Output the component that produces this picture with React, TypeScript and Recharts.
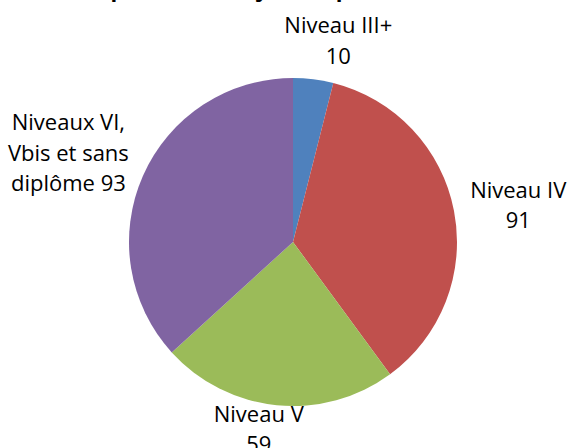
import React from "react";
import { PieChart, Pie, Cell } from "recharts";

const categories = ["Niveau III+", "Niveau IV", "Niveau V", "Niveaux VI, Vbis et sans diplôme"];
const values = [10, 91, 59, 93];
const labelLines = [
  ["Niveau III+", "10"],
  ["Niveau IV", "91"],
  ["Niveau V", "59"],
  ["Niveaux VI,", "Vbis et sans", "diplôme 93"],
];
const colors = ["#4F81BD", "#C0504D", "#9BBB59", "#8064A2"];
const title = "Répartition des jeunes par niveau";

const data = categories.map((name, i) => ({ name, value: values[i] }));

const NUDGE = [
  [20, 0],
  [25, 1],
  [-14, -17],
  [-38, -8],
];
const RAD = Math.PI / 180;
const FONT = "'Open Sans', 'Noto Sans', sans-serif";

const renderLabel = (props: any) => {
  const { cx, cy, midAngle, outerRadius, index } = props;
  const r = outerRadius + 40;
  const x = cx + r * Math.cos(-midAngle * RAD) + NUDGE[index][0];
  const y = cy + r * Math.sin(-midAngle * RAD) + NUDGE[index][1];
  const lines = labelLines[index];
  const lh = 30.5;
  const top = y - ((lines.length - 1) * lh) / 2;
  return (
    <text
      key={`l${index}`}
      x={x}
      y={top}
      textAnchor="middle"
      dominantBaseline="central"
      fill="#000"
      fontSize={22}
      fontFamily={FONT}
    >
      {lines.map((t, k) => (
        <tspan key={k} x={x} y={top + k * lh} dominantBaseline="central">
          {t}
        </tspan>
      ))}
    </text>
  );
};

export default function App() {
  return (
    <div style={{ position: "absolute", left: 0, top: 0, width: 568, height: 448, background: "#fff" }}>
      <PieChart width={568} height={448} margin={{ top: 0, right: 0, bottom: 0, left: 0 }}>
        <text
          x={268}
          y={-3}
          textAnchor="middle"
          fontSize={22}
          fontWeight="bold"
          fontFamily={FONT}
          fill="#000"
        >
          {title}
        </text>
        <Pie
          data={data}
          dataKey="value"
          nameKey="name"
          cx={293}
          cy={242}
          outerRadius={164}
          startAngle={90}
          endAngle={-270}
          stroke="none"
          isAnimationActive={false}
          labelLine={false}
          label={renderLabel}
        >
          {data.map((d, i) => (
            <Cell key={d.name} fill={colors[i]} />
          ))}
        </Pie>
      </PieChart>
    </div>
  );
}
